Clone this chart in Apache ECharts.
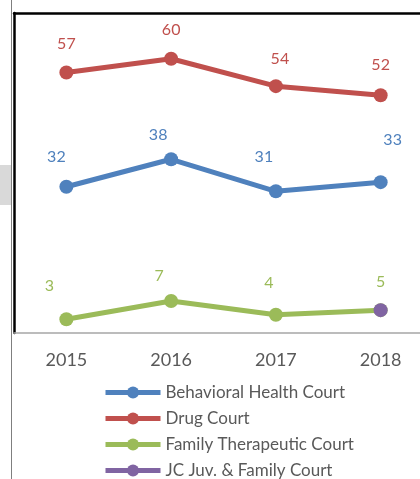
<!DOCTYPE html>
<html><head><meta charset="utf-8">
<script src="https://cdn.jsdelivr.net/npm/echarts@6/dist/echarts.min.js"></script>
<style>html,body{margin:0;padding:0;background:#fff}#c{width:420px;height:479px}</style>
</head><body><div id="c"></div>
<script>
const years = ['2015','2016','2017','2018'];
const behavioral = [32, 38, 31, 33];
const drug = [57, 60, 54, 52];
const family = [3, 7, 4, 5];
const jc = [null, null, null, 5];
const names = ['Behavioral Health Court','Drug Court','Family Therapeutic Court','JC Juv. & Family Court'];
const colors = ['#4f81bd','#c0504d','#9bbb59','#8064a2'];
// label offsets (styling only)
const offs = [
  [[-10,-2],[-13,4],[-12,-6],[12,-14]],
  [[0,-1],[0,-1],[4,1],[0,-2]],
  [[-17,-5],[-12,3],[-7,-4],[0,0]],
  [[0,0],[0,0],[0,0],[0,0]]
];
const font = 'Lato, "Liberation Sans", sans-serif';
function mk(i, vals, showLabel){
  return {
    name: names[i], type:'line', data: vals.map((v,j)=>({value:v, label:{offset:offs[i][j]}})),
    symbol:'circle', symbolSize:14, connectNulls:false,
    lineStyle:{width:5, color:colors[i]}, itemStyle:{color:colors[i]},
    label:{show:showLabel, position:'top', distance:13, color:colors[i], fontSize:16, fontFamily:font},
    z: 2 + i
  };
}
const chart = echarts.init(document.getElementById('c'));
chart.setOption({
  animation:false,
  backgroundColor:'#fff',
  grid:{left:14, width:419, top:13, height:320, outerBoundsMode:'none', containLabel:false},
  xAxis:[{
    type:'category', data:years, boundaryGap:true,
    axisLine:{lineStyle:{color:'#a6a6a6', width:1.5}}, axisTick:{show:false},
    axisLabel:{color:'#595959', fontSize:18, fontFamily:font, margin:18}
  },{
    type:'category', data:years, position:'top',
    axisLine:{show:true, lineStyle:{color:'#000', width:2.5}}, axisTick:{show:false}, axisLabel:{show:false}
  }],
  yAxis:{
    type:'value', min:0, max:70, show:true,
    axisLine:{show:true, lineStyle:{color:'#000', width:2.5}}, axisTick:{show:false},
    axisLabel:{show:false}, splitLine:{show:false}
  },
  legend:{
    orient:'vertical', left:103, top:384, height:130, padding:0, itemWidth:55, itemHeight:15, itemGap:9,
    lineStyle:{width:5}, itemStyle:{borderWidth:0},
    data:names, textStyle:{color:'#595959', fontSize:17, lineHeight:17, fontFamily:font}
  },
  graphic:[
    {type:'rect', shape:{x:0,y:165,width:11,height:40}, style:{fill:'#d9d9d9'}},
    {type:'line', shape:{x1:11.5,y1:0,x2:11.5,y2:479}, style:{stroke:'#7f7f7f', lineWidth:1}}
  ],
  series:[mk(0,behavioral,true), mk(1,drug,true), mk(2,family,true), mk(3,jc,false)]
});
</script></body></html>
